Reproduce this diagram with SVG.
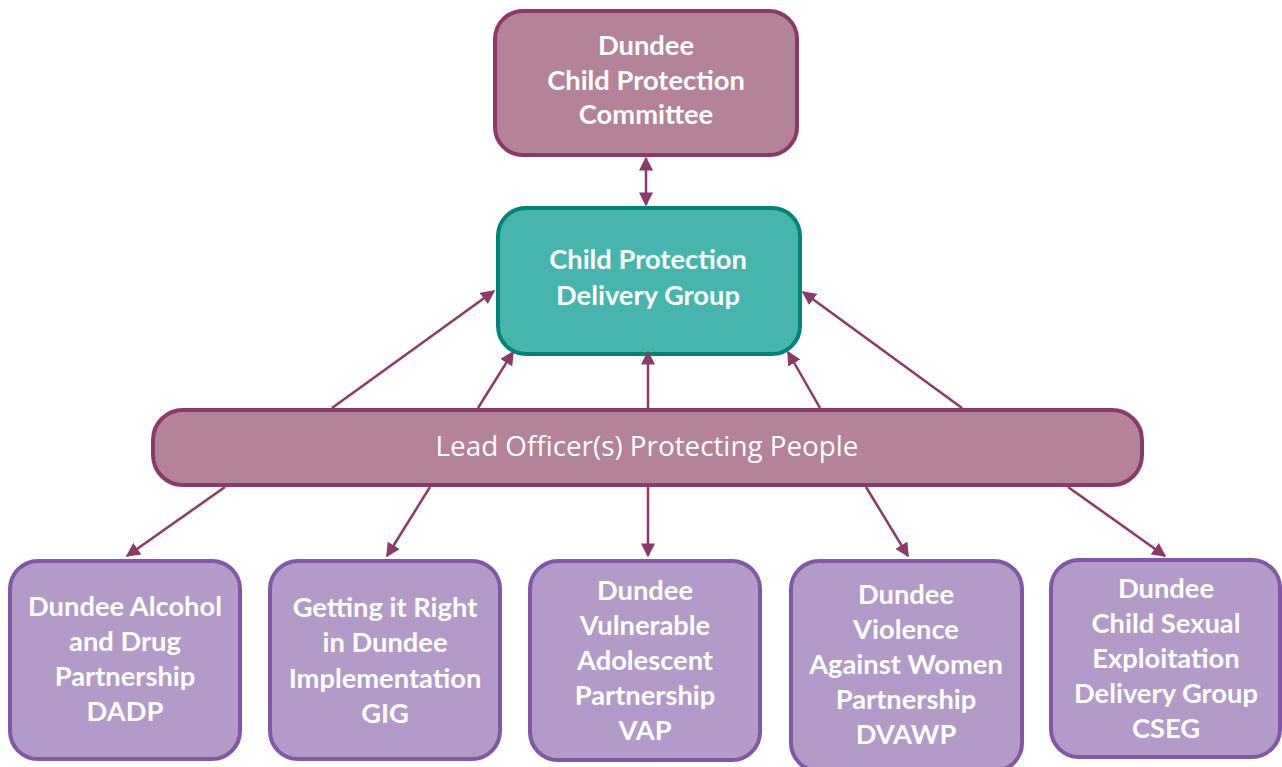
<svg xmlns="http://www.w3.org/2000/svg" width="1282" height="767" viewBox="0 0 1282 767">
<style>
.mauve{fill:#b48299;stroke:#8b3a68;stroke-width:4}
.teal{fill:#45b5ad;stroke:#00847a;stroke-width:4}
.purple{fill:#b39ac8;stroke:#8058a6;stroke-width:4}
.t{font-family:Lato,"Liberation Sans",sans-serif;font-weight:bold;font-size:27.3px;fill:#fff;text-anchor:middle}
.lead{font-family:"Open Sans","Liberation Sans",sans-serif;font-size:27.8px;fill:#fff;text-anchor:middle}
</style>
<defs>
<marker id="ah2" viewBox="0 0 10 10" refX="9" refY="5" markerWidth="14" markerHeight="14" orient="auto-start-reverse" markerUnits="userSpaceOnUse">
<path d="M0,0 L10,5 L0,10 z" fill="#8b3a68"/>
</marker>
</defs>
<g id="cpc"><rect class="mauve" x="495" y="11" width="302" height="144" rx="28"/>
<text class="t" x="646" y="55">Dundee</text><text class="t" x="646" y="90">Child Protection</text><text class="t" x="646" y="124">Committee</text></g>
<g id="cpdg"><rect class="teal" x="498" y="208" width="302" height="146" rx="28"/>
<text class="t" x="648" y="269">Child Protection</text><text class="t" x="648" y="305">Delivery Group</text></g>
<g id="lead"><rect class="mauve" x="153" y="410" width="989" height="75" rx="30"/>
<text class="lead" x="647" y="456">Lead Officer(s) Protecting People</text></g>
<g id="dadp"><rect class="purple" x="10" y="561" width="230" height="198" rx="28"/>
<text class="t" x="125" y="616">Dundee Alcohol</text><text class="t" x="125" y="651">and Drug</text><text class="t" x="125" y="686">Partnership</text><text class="t" x="125" y="721">DADP</text></g>
<g id="gig"><rect class="purple" x="270" y="561" width="230" height="198" rx="28"/>
<text class="t" x="385" y="617">Getting it Right</text><text class="t" x="385" y="652">in Dundee</text><text class="t" x="385" y="688">Implementation</text><text class="t" x="385" y="723">GIG</text></g>
<g id="vap"><rect class="purple" x="530" y="561" width="230" height="199" rx="28"/>
<text class="t" x="645" y="600">Dundee</text><text class="t" x="645" y="635">Vulnerable</text><text class="t" x="645" y="670">Adolescent</text><text class="t" x="645" y="705">Partnership</text><text class="t" x="645" y="740">VAP</text></g>
<g id="dvawp"><rect class="purple" x="791" y="561" width="231" height="210" rx="28"/>
<text class="t" x="906" y="604">Dundee</text><text class="t" x="906" y="639">Violence</text><text class="t" x="906" y="674">Against Women</text><text class="t" x="906" y="709">Partnership</text><text class="t" x="906" y="744">DVAWP</text></g>
<g id="cseg"><rect class="purple" x="1051" y="560" width="229" height="197" rx="28"/>
<text class="t" x="1166" y="598">Dundee</text><text class="t" x="1166" y="633">Child Sexual</text><text class="t" x="1166" y="668">Exploitation</text><text class="t" x="1166" y="703">Delivery Group</text><text class="t" x="1166" y="738">CSEG</text></g>
<g id="connectors" stroke="#8b3a68" stroke-width="2.5">
<line x1="646" y1="158" x2="646" y2="205" marker-start="url(#ah2)" marker-end="url(#ah2)"/>
<line x1="332" y1="408" x2="494" y2="291" marker-end="url(#ah2)"/>
<line x1="478" y1="408" x2="513" y2="352" marker-end="url(#ah2)"/>
<line x1="648" y1="408" x2="648" y2="352" marker-end="url(#ah2)"/>
<line x1="820" y1="408" x2="788" y2="352" marker-end="url(#ah2)"/>
<line x1="962" y1="408" x2="803" y2="292" marker-end="url(#ah2)"/>
<line x1="225" y1="487" x2="127" y2="556" marker-end="url(#ah2)"/>
<line x1="430" y1="487" x2="387" y2="556" marker-end="url(#ah2)"/>
<line x1="648" y1="487" x2="648" y2="556" marker-end="url(#ah2)"/>
<line x1="866" y1="487" x2="908" y2="556" marker-end="url(#ah2)"/>
<line x1="1068" y1="487" x2="1165" y2="556" marker-end="url(#ah2)"/>
</g>
</svg>
